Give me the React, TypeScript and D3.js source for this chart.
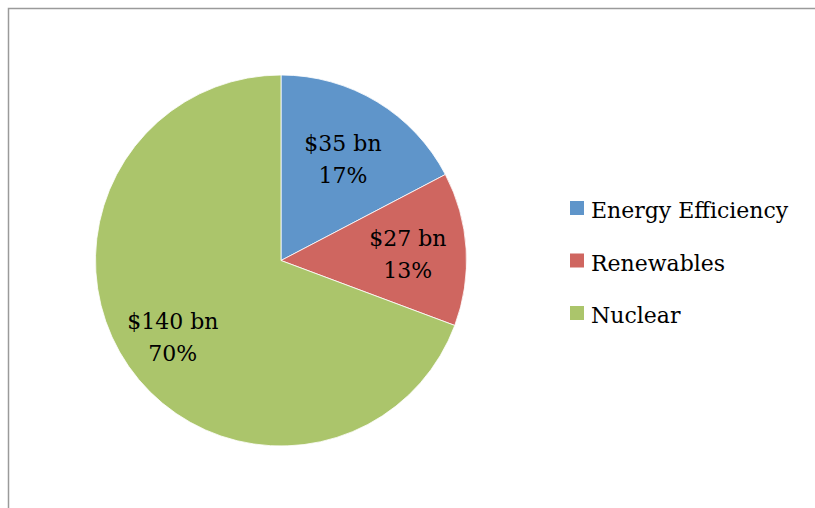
import React from "react";
import * as d3 from "d3";

const categories = ["Energy Efficiency", "Renewables", "Nuclear"];
const values = [35, 27, 140];
const valueLabels = ["$35 bn", "$27 bn", "$140 bn"];
const percentLabels = ["17%", "13%", "70%"];
const colors = ["#5F95CA", "#CF6660", "#ABC56B"];

const W = 815;
const H = 508;
const cx = 281;
const cy = 260.5;
const R = 185.5;
const FONT = "'DejaVu Serif', serif";
const labelRadiusFactors = [0.645, 0.685, 0.71];

export default function App() {
  const pie = d3.pie<number>().sort(null).value((d) => d)(values);
  const arc = d3.arc<d3.PieArcDatum<number>>().innerRadius(0).outerRadius(R);

  return (
    <svg
      width={W}
      height={H}
      style={{ position: "absolute", left: 0, top: 0, background: "#fff" }}
    >
      <rect x={8.5} y={8.5} width={W + 20} height={H + 20} fill="#fff" stroke="#9a9a9a" strokeWidth={1.5} />
      <g transform={`translate(${cx},${cy})`}>
        {pie.map((p, i) => (
          <path key={i} d={arc(p) || ""} fill={colors[i]} stroke="#fff" strokeWidth={0.8} />
        ))}
        {pie.map((p, i) => {
          const lr = R * labelRadiusFactors[i];
          const [x, y] = d3.arc<d3.PieArcDatum<number>>().innerRadius(lr).outerRadius(lr).centroid(p);
          return (
            <text key={i} x={x} y={y} textAnchor="middle" fontFamily={FONT} fontSize={22} fill="#000">
              <tspan x={x} dy={-7}>{valueLabels[i]}</tspan>
              <tspan x={x} dy={32}>{percentLabels[i]}</tspan>
            </text>
          );
        })}
      </g>
      <g>
        {categories.map((c, i) => (
          <g key={c} transform={`translate(570,${218 + i * 52.5})`}>
            <rect x={0} y={-17} width={14} height={14} fill={colors[i]} />
            <text x={21} y={0} fontFamily={FONT} fontSize={22} fill="#000">
              {c}
            </text>
          </g>
        ))}
      </g>
    </svg>
  );
}
